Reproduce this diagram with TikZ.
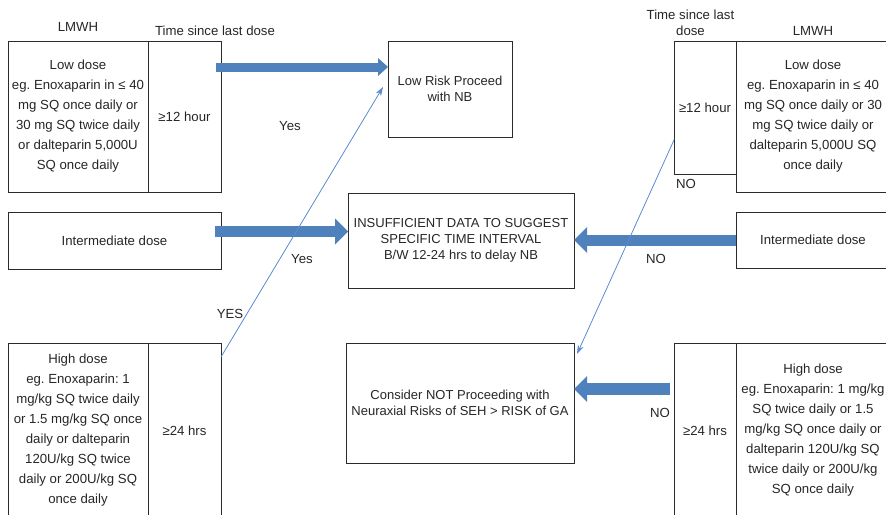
\documentclass[tikz,border=0pt]{standalone}
\usepackage{fontspec}
\setmainfont{Liberation Sans}
\usetikzlibrary{arrows.meta,calc,positioning}
\frenchspacing

\definecolor{arrowblue}{HTML}{4F81BD}
\definecolor{lineblue}{HTML}{5B8BD3}
\definecolor{boxline}{HTML}{2B2B2B}
\definecolor{txt}{HTML}{262626}

\begin{document}
\begin{tikzpicture}[
    % GLOBAL CFG
    x=1pt, y=-1pt,
    % Styles
    box/.style={% dose and time boxes
        rectangle,
        draw=boxline,
        line width=1pt,
        outer sep=0pt,
        inner sep=1pt,
        align=center,
        text=txt,
        font=\fontsize{13.2}{20}\selectfont,
        },
    result/.style={% outcome boxes in the middle
        box,
        font=\fontsize{13}{16}\selectfont,
        },
    tag/.style={% plain labels
        text=txt,
        inner sep=0pt,
        align=center,
        font=\fontsize{13.2}{16}\selectfont,
        },
    fat/.style={% block arrows
        draw=arrowblue,
        line width=11pt,
        -{Triangle[length=13pt,width=26pt,line width=0pt]},
        },
    link/.style={% thin yes/no arrows
        draw=lineblue,
        line width=0.8pt,
        -{Stealth[length=9pt,width=6pt]},
        },
    ]

\useasboundingbox (0,0) rectangle (886,514);

% Left column: LMWH and time since last dose
\node[tag] (lmwhL) at (78,27) {LMWH};
\node[tag] (sinceL) at (215,31) {Time since last dose};
\node[box, minimum width=140pt, minimum height=151pt] (lowL) at (78,116.5)
    {Low dose\\eg. Enoxaparin in ≤ 40\\mg SQ once daily or\\30 mg SQ twice daily\\or dalteparin 5,000U\\SQ once daily};
\node[box, minimum width=73pt, minimum height=151pt, right=0pt of lowL] (timeL1) {≥12 hour};
\node[box, minimum width=213pt, minimum height=57pt] (midL) at (114.5,240.5) {Intermediate dose};
\node[box, minimum width=140pt, minimum height=175pt] (highL) at (78,430.5)
    {High dose\\eg. Enoxaparin: 1\\mg/kg SQ twice daily\\or 1.5 mg/kg SQ once\\daily or dalteparin\\120U/kg SQ twice\\daily or 200U/kg SQ\\once daily};
\node[box, minimum width=73pt, minimum height=175pt, right=0pt of highL] (timeL2) {≥24 hrs};

% Middle: outcomes
\node[result, minimum width=124pt, minimum height=96pt] (lowrisk) at (450,89) {Low Risk Proceed\\with NB};
\node[result, minimum width=226pt, minimum height=95pt] (insuff) at (461,240.5)
    {INSUFFICIENT DATA TO SUGGEST\\SPECIFIC TIME INTERVAL\\B/W 12-24 hrs to delay NB};
\node[result, minimum width=228pt, minimum height=120pt] (consider) at (460,403)
    {Consider NOT Proceeding with\\Neuraxial Risks of SEH > RISK of GA};

% Right column
\node[tag] (sinceR) at (690.5,23) {Time since last\\dose};
\node[tag] (lmwhR) at (813,31) {LMWH};
\node[box, minimum width=62pt, minimum height=133pt] (timeR1) at (705,107.5) {≥12 hour};
\node[box, minimum width=154pt, minimum height=151pt, anchor=north west] (lowR) at (timeR1.north east)
    {Low dose\\eg. Enoxaparin in ≤ 40\\mg SQ once daily or 30\\mg SQ twice daily or\\dalteparin 5,000U SQ\\once daily};
\node[box, minimum width=154pt, minimum height=56pt, anchor=north west] (midR) at (736,212) {Intermediate dose};
\node[box, minimum width=62pt, minimum height=175pt] (timeR2) at (705,430.5) {≥24 hrs};
\node[box, minimum width=154pt, minimum height=175pt, anchor=north west] (highR) at (timeR2.north east)
    {High dose\\eg. Enoxaparin: 1 mg/kg\\SQ twice daily or 1.5\\mg/kg SQ once daily or\\dalteparin 120U/kg SQ\\twice daily or 200U/kg\\SQ once daily};

% Yes / No labels
\node[tag] (yes1) at (290,126) {Yes};
\node[tag] (yes2) at (302,259) {Yes};
\node[tag] (yes3) at (230,314) {YES};
\node[tag] (no1) at (686,184) {NO};
\node[tag] (no2) at (656,259) {NO};
\node[tag] (no3) at (660,413) {NO};

% Block arrows
\coordinate (a1) at ([shift={(-5pt,-26pt)}]timeL1.north east);
\coordinate (a2) at ([shift={(-6pt,9pt)}]midL.east);
\coordinate (a4) at ([shift={(-4pt,41.5pt)}]timeR2.west);
\draw[fat, line width=9pt, -{Triangle[length=10pt,width=18pt,line width=0pt]}] (a1) -- (a1 -| lowrisk.west);
\draw[fat] (a2) -- (a2 -| insuff.west);
\draw[fat] (midR.west) -- (midR.west -| insuff.east);
\draw[fat, line width=12pt] (a4) -- (a4 -| consider.east);

% Thin arrows
\draw[link] ([yshift=-14pt]timeL2.north east) -- ([shift={(-5pt,2pt)}]lowrisk.west);
\draw[link] ([yshift=-32.5pt]timeR1.west) -- ([shift={(3pt,-11pt)}]consider.north east);

\end{tikzpicture}
\end{document}
